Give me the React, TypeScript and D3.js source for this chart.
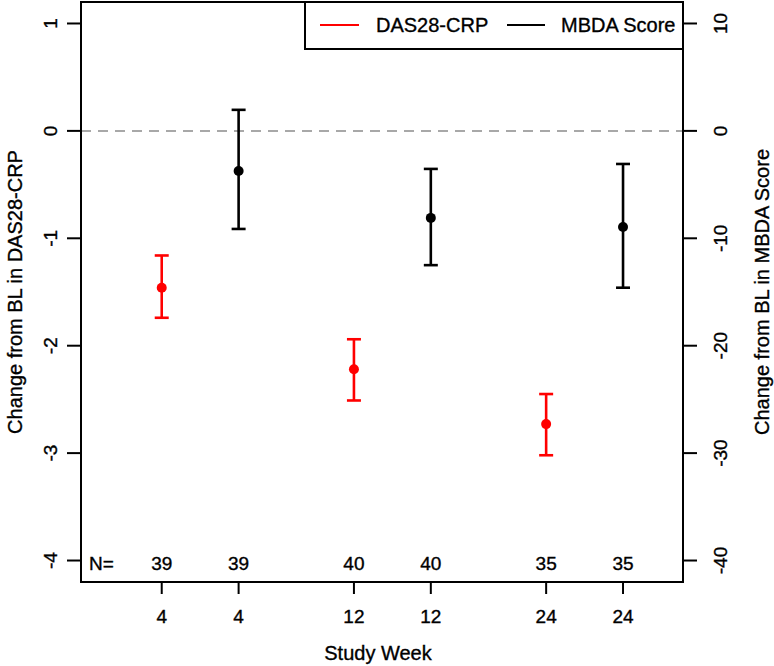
import React from "react";
import * as d3 from "d3";

// ─── Data ─────────────────────────────────────────────────────────────────────
const POSITIONS = [1, 2, 3.5, 4.5, 6, 7];
const WEEK_LABELS = ["4", "4", "12", "12", "24", "24"];
const N_LABELS = ["39", "39", "40", "40", "35", "35"];
const SERIES = ["DAS28", "MBDA", "DAS28", "MBDA", "DAS28", "MBDA"];

// DAS28-CRP on left axis, MBDA on right axis
const MEAN = [-1.46, -3.73, -2.22, -8.1, -2.73, -8.95];
const LOWER = [-1.74, -9.13, -2.51, -12.5, -3.02, -14.6];
const UPPER = [-1.16, 1.96, -1.94, -3.54, -2.45, -3.08];

const LEFT_TICKS = [-4, -3, -2, -1, 0, 1];
const RIGHT_TICKS = [-40, -30, -20, -10, 0, 10];

// ─── Layout ───────────────────────────────────────────────────────────────────
const W = 774;
const H = 666;
const PLOT = { left: 81, right: 683, top: 2, bottom: 582 };
const RED = "#ff0000";
const FONT = "'Liberation Sans', Arial, sans-serif";
const TICK_SIZE = 19;
const TITLE_SIZE = 20;
// slight outline to mimic the heavier raster text of the original
const TXT = { fill: "#000", stroke: "#000", strokeWidth: 0.35 };

export default function App() {
  const x = d3.scaleLinear().domain([-0.05, 7.78]).range([PLOT.left, PLOT.right]);
  const yL = d3.scaleLinear().domain([-4.2, 1.2]).range([PLOT.bottom, PLOT.top]);
  const yR = d3.scaleLinear().domain([-42, 12]).range([PLOT.bottom, PLOT.top]);

  const cap = 7;
  const midY = (PLOT.top + PLOT.bottom) / 2;

  return (
    <svg
      width={W}
      height={H}
      style={{ position: "absolute", left: 0, top: 0, fontFamily: FONT }}
    >
      <rect width={W} height={H} fill="#fff" />

      {/* zero reference line */}
      <line
        x1={PLOT.left}
        x2={PLOT.right}
        y1={yL(0)}
        y2={yL(0)}
        stroke="#a8a8a8"
        strokeWidth={2}
        strokeDasharray="10,7"
      />

      {/* error bars */}
      {POSITIONS.map((p, i) => {
        const isRed = SERIES[i] === "DAS28";
        const y = isRed ? yL : yR;
        const col = isRed ? RED : "#000";
        const cx = x(p);
        return (
          <g key={i} stroke={col} strokeWidth={2.6}>
            <line x1={cx} x2={cx} y1={y(LOWER[i])} y2={y(UPPER[i])} />
            <line x1={cx - cap} x2={cx + cap} y1={y(LOWER[i])} y2={y(LOWER[i])} />
            <line x1={cx - cap} x2={cx + cap} y1={y(UPPER[i])} y2={y(UPPER[i])} />
            <circle cx={cx} cy={y(MEAN[i])} r={5} fill={col} stroke="none" />
          </g>
        );
      })}

      {/* N labels */}
      <text x={89} y={yL(-4) + 3} dy="0.35em" fontSize={TICK_SIZE} {...TXT}>
        N=
      </text>
      {POSITIONS.map((p, i) => (
        <text
          key={"n" + i}
          x={x(p)}
          y={yL(-4) + 3}
          dy="0.35em"
          textAnchor="middle"
          fontSize={TICK_SIZE}
          {...TXT}
        >
          {N_LABELS[i]}
        </text>
      ))}

      {/* plot frame */}
      <rect
        x={PLOT.left}
        y={PLOT.top}
        width={PLOT.right - PLOT.left}
        height={PLOT.bottom - PLOT.top}
        fill="none"
        stroke="#000"
        strokeWidth={2}
      />

      {/* bottom axis */}
      {POSITIONS.map((p, i) => (
        <g key={"xt" + i}>
          <line x1={x(p)} x2={x(p)} y1={PLOT.bottom} y2={PLOT.bottom + 12} stroke="#000" strokeWidth={2} />
          <text x={x(p)} y={616} dy="0.35em" textAnchor="middle" fontSize={TICK_SIZE} {...TXT}>
            {WEEK_LABELS[i]}
          </text>
        </g>
      ))}
      <text x={378} y={653} dy="0.35em" textAnchor="middle" fontSize={TITLE_SIZE} {...TXT}>
        Study Week
      </text>

      {/* left axis */}
      {LEFT_TICKS.map((t) => (
        <g key={"l" + t}>
          <line x1={PLOT.left - 14} x2={PLOT.left} y1={yL(t)} y2={yL(t)} stroke="#000" strokeWidth={2} />
          <text
            transform={`translate(50,${yL(t)}) rotate(-90)`}
            dy="0.35em"
            textAnchor="middle"
            fontSize={TICK_SIZE}
            {...TXT}
          >
            {t}
          </text>
        </g>
      ))}
      <text
        transform={`translate(15,${midY}) rotate(-90)`}
        dy="0.35em"
        textAnchor="middle"
        fontSize={TITLE_SIZE}
        {...TXT}
      >
        Change from BL in DAS28-CRP
      </text>

      {/* right axis */}
      {RIGHT_TICKS.map((t) => (
        <g key={"r" + t}>
          <line x1={PLOT.right} x2={PLOT.right + 14} y1={yR(t)} y2={yR(t)} stroke="#000" strokeWidth={2} />
          <text
            transform={`translate(720,${yR(t)}) rotate(-90)`}
            dy="0.35em"
            textAnchor="middle"
            fontSize={TICK_SIZE}
            {...TXT}
          >
            {t}
          </text>
        </g>
      ))}
      <text
        transform={`translate(762,${midY}) rotate(-90)`}
        dy="0.35em"
        textAnchor="middle"
        fontSize={TITLE_SIZE}
        {...TXT}
      >
        Change from BL in MBDA Score
      </text>

      {/* legend */}
      <rect x={305} y={PLOT.top} width={PLOT.right - 305} height={47} fill="#fff" stroke="#000" strokeWidth={2} />
      <line x1={320} x2={359} y1={25} y2={25} stroke={RED} strokeWidth={2} />
      <text x={376} y={25} dy="0.35em" fontSize={TITLE_SIZE} {...TXT}>
        DAS28-CRP
      </text>
      <line x1={507} x2={545} y1={25} y2={25} stroke="#000" strokeWidth={2} />
      <text x={561} y={25} dy="0.35em" fontSize={TITLE_SIZE} {...TXT}>
        MBDA Score
      </text>
    </svg>
  );
}
